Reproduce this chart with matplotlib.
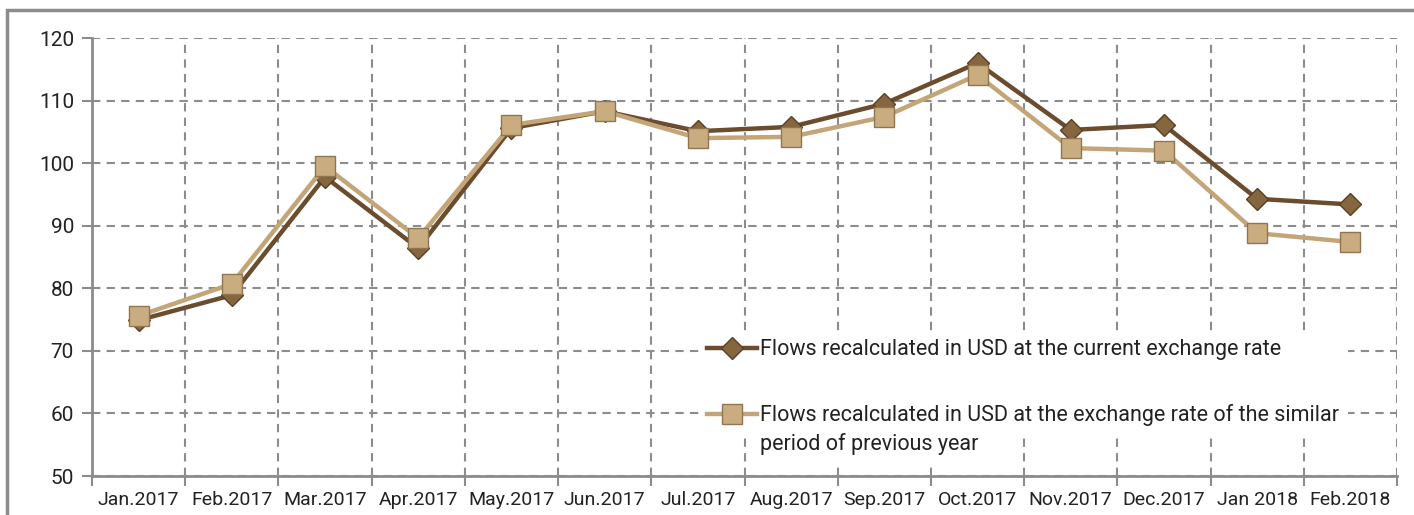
import matplotlib.pyplot as plt
from matplotlib.patches import Rectangle

# данные графика
months = ['Jan.2017', 'Feb.2017', 'Mar.2017', 'Apr.2017', 'May.2017', 'Jun.2017',
          'Jul.2017', 'Aug.2017', 'Sep.2017', 'Oct.2017', 'Nov.2017', 'Dec.2017',
          'Jan 2018', 'Feb.2018']
current_rate = [74.9, 78.9, 97.8, 86.4, 105.6, 108.3, 105.1, 105.8, 109.5, 116.0,
                105.3, 106.1, 94.3, 93.4]
prev_year_rate = [75.6, 80.7, 99.5, 88.0, 106.1, 108.3, 104.0, 104.2, 107.4, 114.1,
                  102.4, 102.0, 88.8, 87.4]
label_current = 'Flows recalculated in USD at the current exchange rate'
label_prev = 'Flows recalculated in USD at the exchange rate of the similar'
label_prev_2 = 'period of previous year'

plt.rcParams['font.family'] = ['Roboto', 'DejaVu Sans']
grey = '#8c8c8c'

fig = plt.figure(figsize=(14.14, 5.15), dpi=100)
ax = fig.add_axes([92 / 1414, 1 - 476 / 515, 1305 / 1414, 438 / 515])

# рамка вокруг графика
fig.patches.append(Rectangle((7 / 1414, -0.1), 1.1, 1 - 10 / 515 + 0.1,
                             transform=fig.transFigure, fill=False,
                             edgecolor=grey, linewidth=2.5))

x = list(range(len(months)))
dark = '#6b4c2e'
light = '#c3a578'

ax.plot(x, current_rate, color=dark, linewidth=3.2, marker='D', markersize=11,
        markerfacecolor='#86663f', markeredgecolor='#5a3f25', markeredgewidth=1,
        label=label_current, zorder=3)
ax.plot(x, prev_year_rate, color=light, linewidth=3.2, marker='s', markersize=15,
        markerfacecolor='#c9ad80', markeredgecolor='#8f7550', markeredgewidth=1,
        label=label_prev, zorder=4)

ax.set_xlim(-0.5, len(months) - 0.5)
ax.set_ylim(50, 120)
ax.set_yticks(range(50, 121, 10))
ax.set_xticks(x)
ax.set_xticklabels(months)
ax.set_xticks([i - 0.5 for i in range(len(months) + 1)], minor=True)

ax.tick_params(axis='x', which='major', length=0, labelsize=14, pad=11,
               labelcolor='#222222')
ax.tick_params(axis='x', which='minor', length=7, width=1.5, color=grey,
               direction='out')
ax.tick_params(axis='y', length=7, width=1.5, color=grey, direction='out',
               labelsize=15, pad=6, labelcolor='#222222')

ax.grid(True, axis='y', which='major', linestyle=(0, (4, 3)), color=grey,
        linewidth=1.5)
ax.grid(True, axis='x', which='minor', linestyle=(0, (4, 3)), color=grey,
        linewidth=1.5)
ax.set_axisbelow(True)

for side in ['top', 'right']:
    ax.spines[side].set_visible(False)
for side in ['left', 'bottom']:
    ax.spines[side].set_color(grey)
    ax.spines[side].set_linewidth(2)

leg = ax.legend(loc='upper left', bbox_to_anchor=(0.465, 0.332), frameon=True,
                facecolor='white', edgecolor='none', framealpha=1, fancybox=False,
                fontsize=15.5, handlelength=2.3, handletextpad=0.15,
                labelspacing=2.05, borderpad=0.4, borderaxespad=0)
leg.set_zorder(5)
for t in leg.get_texts():
    t.set_color('#222222')

# вторая строка подписи второго ряда
ax.annotate(label_prev_2, xy=(0, 0), xycoords=leg.get_texts()[1],
            xytext=(0, -5), textcoords='offset points', va='top', ha='left',
            fontsize=15.5, color='#222222', zorder=6,
            bbox=dict(facecolor='white', edgecolor='none', pad=8))

plt.savefig('out.png', dpi=100)
